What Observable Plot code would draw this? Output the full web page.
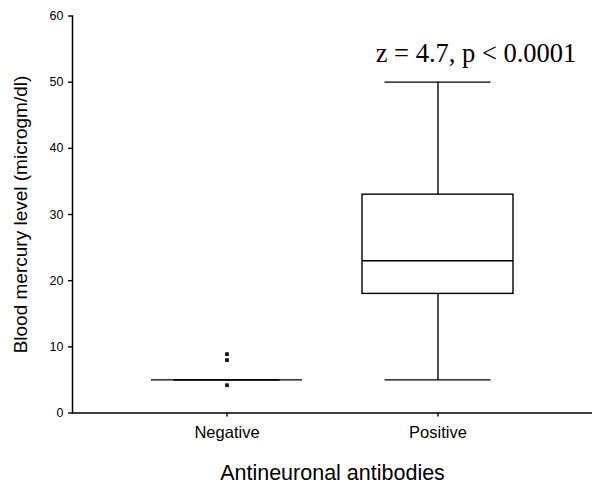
<!DOCTYPE html>
<html>
<head>
<meta charset="utf-8">
<script src="https://cdn.jsdelivr.net/npm/d3@7"></script>
<script src="https://cdn.jsdelivr.net/npm/@observablehq/plot@0.6"></script>
<style>
  html, body { margin: 0; padding: 0; background: #fff; }
  #chart { width: 592px; height: 486px; }
</style>
</head>
<body>
<div id="chart"></div>
<script>
// Data
const groups = ["Negative", "Positive"];
const q1 = [5, 18];
const median = [5, 23];
const q3 = [5, 33];
const whiskerLow = [5, 5];
const whiskerHigh = [5, 50];
const outlierGroup = ["Negative", "Negative", "Negative"];
const outlierValue = [8.9, 8.0, 4.2];
const yTicks = [0, 10, 20, 30, 40, 50, 60];
const annotationText = "z = 4.7, p < 0.0001";
const annotationGroup = "Positive";
const annotationValue = 54.3;

const boxes = groups.map((g, i) => ({
  group: g, q1: q1[i], median: median[i], q3: q3[i], lo: whiskerLow[i], hi: whiskerHigh[i]
}));
const outliers = outlierGroup.map((g, i) => ({group: g, value: outlierValue[i]}));

const sans = "Arial, 'Liberation Sans', Helvetica, sans-serif";

const chart = Plot.plot({
  width: 592,
  height: 486,
  marginLeft: 72,
  marginRight: 0,
  marginTop: 15.5,
  marginBottom: 73.5,
  style: {fontFamily: sans, background: "#fff", color: "#000"},
  x: {
    domain: groups,
    type: "band",
    paddingInner: 0.284,
    paddingOuter: 0.369,
    label: null
  },
  y: {
    domain: [0, 60],
    label: null
  },
  marks: [
    // whiskers
    Plot.ruleX(boxes, {x: "group", y1: "lo", y2: "hi", stroke: "#000", strokeWidth: 1.4}),
    // boxes
    Plot.barY(boxes, {x: "group", y1: "q1", y2: "q3", fill: "#fff", stroke: "#000", strokeWidth: 1.4}),
    // median
    Plot.tickY(boxes, {x: "group", y: "median", stroke: "#000", strokeWidth: 1.4}),
    // caps
    Plot.tickY(boxes, {x: "group", y: "lo", stroke: "#000", strokeWidth: 1.4, inset: 22.5}),
    Plot.tickY(boxes, {x: "group", y: "hi", stroke: "#000", strokeWidth: 1.4, inset: 22.5}),
    // outliers
    Plot.dot(outliers, {x: "group", y: "value", symbol: "square", r: 2.1, fill: "#111", stroke: "none"}),
    // annotation
    Plot.text([annotationText], {
      x: () => annotationGroup, y: () => annotationValue, text: d => d,
      dx: 38, fontFamily: "'Times New Roman', 'Liberation Serif', Times, serif",
      fontSize: 26.5, fill: "#000", textAnchor: "middle"
    }),
    // axes
    Plot.axisY({
      ticks: yTicks, tickSize: 4, tickPadding: 5, fontSize: 12.5,
      stroke: "#000", strokeWidth: 1.4, label: null
    }),
    Plot.axisX({
      tickSize: 4, tickPadding: 9, fontSize: 16.5, stroke: "#000", strokeWidth: 1.4, label: null
    }),
    Plot.frame({anchor: "left", stroke: "#000", strokeWidth: 1.5}),
    Plot.frame({anchor: "bottom", stroke: "#000", strokeWidth: 1.5}),
    // axis titles
    Plot.text(["Blood mercury level (microgm/dl)"], {
      text: d => d, frameAnchor: "left", dx: -52, rotate: -90, textAnchor: "middle",
      fontSize: 19, fill: "#000"
    }),
    Plot.text(["Antineuronal antibodies"], {
      text: d => d, frameAnchor: "bottom", dy: 67, textAnchor: "middle",
      fontSize: 21.5, fill: "#000"
    })
  ]
});

document.getElementById("chart").appendChild(chart);
</script>
</body>
</html>
